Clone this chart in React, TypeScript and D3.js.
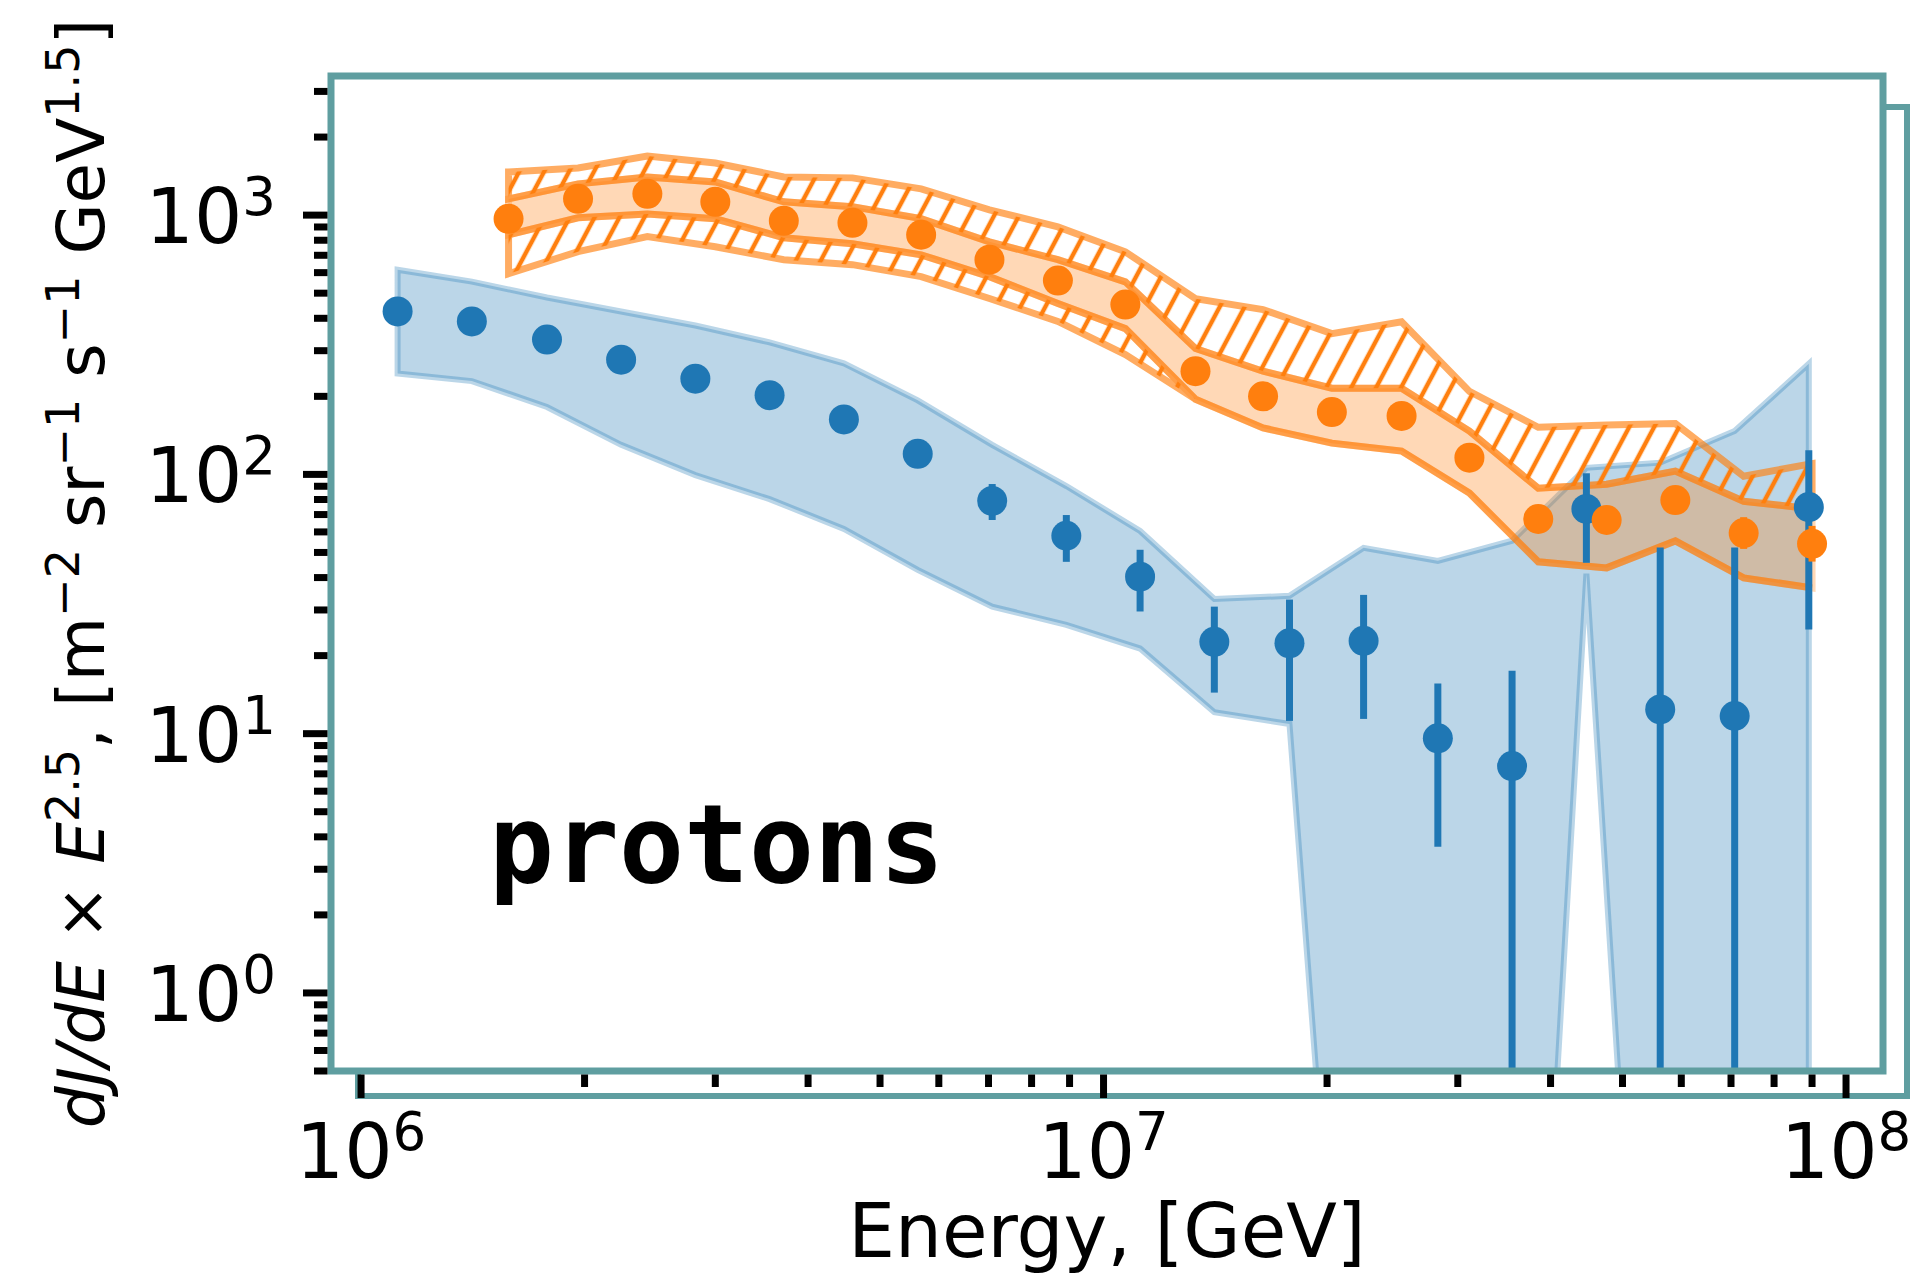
import React, { useRef, useEffect } from 'react'
import * as d3 from 'd3'

const W = 1911
const H = 1274

// blue series: measured flux, error bars and shaded band
const blueEnergy = [1.12e6, 1.41e6, 1.78e6, 2.24e6, 2.82e6, 3.55e6, 4.47e6, 5.62e6, 7.08e6, 8.91e6,
  1.12e7, 1.41e7, 1.78e7, 2.24e7, 2.82e7, 3.55e7, 4.47e7, 5.62e7, 7.08e7, 8.91e7]
const blueFlux = [425, 389, 331, 277, 234, 202, 163, 120, 79, 58, 40.3, 22.6, 22.3, 22.8, 9.6, 7.5, 73.6, 12.4, 11.7, 74.8]
const blueErrLo = [415, 380, 323, 270, 228, 196, 157, 106, 66.7, 46, 29.6, 14.4, 11.2, 11.4, 3.66, 0.001, 45.6, 0.001, 0.001, 25.2]
const blueErrHi = [435, 398, 339, 284, 240, 208, 169, 128, 91.8, 69.7, 51.2, 30.9, 32.9, 34.3, 15.6, 17.5, 101, 52.3, 52.3, 124]
const blueBandLo = [245, 229, 182, 130, 99.4, 80.3, 61.6, 42.8, 30.9, 26.3, 21.3, 12.1, 10.9, 0.002, 0.001, 0.0005, 41.4, 0.0014, 0.001, 0.001]
const blueBandHi = [616, 554, 481, 425, 375, 323, 268, 193, 130, 90.2, 60.5, 33.1, 34, 52.1, 46.4, 55.5, 106, 111, 147, 267]

// orange series: flux, error bars, inner (solid) and outer (hatched) bands
const orangeEnergy = [1.58e6, 1.96e6, 2.43e6, 3.0e6, 3.71e6, 4.59e6, 5.68e6, 7.02e6, 8.68e6, 1.07e7,
  1.33e7, 1.64e7, 2.03e7, 2.52e7, 3.11e7, 3.85e7, 4.76e7, 5.89e7, 7.28e7, 9.0e7]
const orangeFlux = [968, 1156, 1208, 1125, 951, 934, 840, 673, 559, 452, 250, 200, 174, 168, 116, 67.3, 66.7, 79.6, 59.4, 54]
const orangeErrLo = [930, 1110, 1160, 1080, 915, 898, 808, 647, 537, 435, 240, 192, 167, 161, 111, 63.5, 63, 75, 51.6, 46.1]
const orangeErrHi = [1008, 1204, 1258, 1172, 990, 972, 874, 700, 582, 470, 260, 208, 181, 175, 121, 71, 70.5, 84, 68.4, 63.3]
const orangeInnerLo = [840, 977, 1011, 968, 818, 776, 703, 579, 456, 365, 195, 151, 132, 123, 84.7, 46, 43.6, 55.4, 39.9, 36.5]
const orangeInnerHi = [1155, 1320, 1403, 1343, 1125, 1078, 969, 789, 673, 553, 306, 250, 215, 215, 147, 88.4, 91.6, 103, 78.8, 73.6]
const orangeOuterLo = [594, 723, 826, 755, 673, 644, 579, 477, 389, 290, 195, 151, 132, 123, 84.7, 46, 43.6, 55.4, 39.9, 36.5]
const orangeOuterHi = [1468, 1520, 1690, 1589, 1403, 1392, 1263, 1048, 901, 722, 476, 432, 349, 388, 209, 152, 155, 157, 98.4, 110]

// ticks
const xTicks = [1e6, 1e7, 1e8]
const xTickExp = ['6', '7', '8']
const yTicks = [1, 10, 100, 1000]
const yTickExp = ['0', '1', '2', '3']

const xLabel = 'Energy, [GeV]'
const yLabelParts = [
  { t: 'dJ/dE', it: true }, { t: ' × ' }, { t: 'E', it: true }, { t: '2.5', sup: true },
  { t: ', [m' }, { t: '−2', sup: true }, { t: ' sr' }, { t: '−1', sup: true },
  { t: ' s' }, { t: '−1', sup: true }, { t: ' GeV' }, { t: '1.5', sup: true }, { t: ']' },
]
const panelLabel = 'protons'

const BLUE = '#1f77b4'
const ORANGE = '#ff7f0e'
const SPINE = '#5f9ea0'

type Part = { t: string, sup?: boolean, it?: boolean }

const App = () => {
  const ref = useRef<SVGSVGElement>(null)

  useEffect(() => {
    const svg = d3.select(ref.current)
    svg.selectAll('*').remove()

    const left = 331, right = 1883, top = 76, bottom = 1071

    const x = d3.scaleLog().domain([9.11e5, 1.1215e8]).range([left, right])
    const y = d3.scaleLog().domain([0.5, 3440]).range([bottom, top])

    const defs = svg.append('defs')
    defs.append('clipPath').attr('id', 'plotclip')
      .append('rect').attr('x', left).attr('y', top).attr('width', right - left).attr('height', bottom - top)
    const pat = defs.append('pattern').attr('id', 'hatch')
      .attr('patternUnits', 'userSpaceOnUse')
      .attr('width', 22).attr('height', 22)
      .attr('patternTransform', 'rotate(28)')
    pat.append('line').attr('x1', 11).attr('y1', -2).attr('x2', 11).attr('y2', 24)
      .attr('stroke', ORANGE).attr('stroke-width', 4.5)

    // second (offset) frame behind the main axes
    svg.append('rect')
      .attr('x', 358).attr('y', 107).attr('width', 1549).attr('height', 989)
      .attr('fill', '#fff').attr('stroke', SPINE).attr('stroke-width', 6)

    svg.append('rect')
      .attr('x', left).attr('y', top).attr('width', right - left).attr('height', bottom - top)
      .attr('fill', '#fff')

    const plot = svg.append('g').attr('clip-path', 'url(#plotclip)')

    const idx = d3.range(blueEnergy.length)
    const blueArea = d3.area<number>()
      .x(i => x(blueEnergy[i]))
      .y0(i => y(blueBandLo[i]))
      .y1(i => y(blueBandHi[i]))
    plot.append('path').attr('d', blueArea(idx))
      .attr('fill', BLUE).attr('fill-opacity', 0.3)
      .attr('stroke', BLUE).attr('stroke-opacity', 0.3).attr('stroke-width', 6)
      .attr('stroke-linejoin', 'miter')

    const oidx = d3.range(orangeEnergy.length)
    const band = (lo: number[], hi: number[]) => d3.area<number>()
      .x(i => x(orangeEnergy[i]))
      .y0(i => y(lo[i]))
      .y1(i => y(hi[i]))(oidx)

    plot.append('path').attr('d', band(orangeInnerLo, orangeInnerHi))
      .attr('fill', ORANGE).attr('fill-opacity', 0.3)
      .attr('stroke', ORANGE).attr('stroke-opacity', 0.3).attr('stroke-width', 7)

    plot.append('path').attr('d', band(orangeInnerHi, orangeOuterHi))
      .attr('fill', 'url(#hatch)')
      .attr('stroke', ORANGE).attr('stroke-opacity', 0.65).attr('stroke-width', 7)
    plot.append('path').attr('d', band(orangeOuterLo, orangeInnerLo))
      .attr('fill', 'url(#hatch)')
      .attr('stroke', ORANGE).attr('stroke-opacity', 0.65).attr('stroke-width', 7)

    // blue points
    plot.selectAll('line.berr').data(idx).enter().append('line')
      .attr('x1', i => x(blueEnergy[i])).attr('x2', i => x(blueEnergy[i]))
      .attr('y1', i => y(blueErrLo[i])).attr('y2', i => y(blueErrHi[i]))
      .attr('stroke', BLUE).attr('stroke-width', 7)
    plot.selectAll('circle.bpt').data(idx).enter().append('circle')
      .attr('cx', i => x(blueEnergy[i])).attr('cy', i => y(blueFlux[i]))
      .attr('r', 15).attr('fill', BLUE)

    // orange points
    plot.selectAll('line.oerr').data(oidx).enter().append('line')
      .attr('x1', i => x(orangeEnergy[i])).attr('x2', i => x(orangeEnergy[i]))
      .attr('y1', i => y(orangeErrLo[i])).attr('y2', i => y(orangeErrHi[i]))
      .attr('stroke', ORANGE).attr('stroke-width', 7)
    plot.selectAll('circle.opt').data(oidx).enter().append('circle')
      .attr('cx', i => x(orangeEnergy[i])).attr('cy', i => y(orangeFlux[i]))
      .attr('r', 15).attr('fill', ORANGE)

    // main frame
    svg.append('rect')
      .attr('x', left).attr('y', top).attr('width', right - left).attr('height', bottom - top)
      .attr('fill', 'none').attr('stroke', SPINE).attr('stroke-width', 7)

    // minor ticks per decade
    const minors = (lo: number, hi: number) => {
      const out: number[] = []
      for (let e = Math.floor(Math.log10(lo)); e <= Math.ceil(Math.log10(hi)); e++) {
        for (let m = 2; m <= 9; m++) {
          const v = m * Math.pow(10, e)
          if (v >= lo * 0.9999 && v <= hi) out.push(v)
        }
      }
      return out
    }

    const ticks = svg.append('g').attr('stroke', '#000').attr('stroke-width', 7)
    const [xd0, xd1] = x.domain()
    const [yd0, yd1] = y.domain()
    ticks.selectAll('line.xmin').data(minors(xd0, xd1)).enter().append('line')
      .attr('x1', d => x(d)).attr('x2', d => x(d)).attr('y1', bottom + 3.5).attr('y2', bottom + 16)
    ticks.selectAll('line.xmaj').data(xTicks).enter().append('line')
      .attr('x1', d => x(d)).attr('x2', d => x(d)).attr('y1', bottom + 3.5).attr('y2', bottom + 27)
    ticks.selectAll('line.ymin').data(minors(yd0, yd1)).enter().append('line')
      .attr('y1', d => y(d)).attr('y2', d => y(d)).attr('x1', left - 3.5).attr('x2', left - 17)
    ticks.selectAll('line.ymaj').data(yTicks).enter().append('line')
      .attr('y1', d => y(d)).attr('y2', d => y(d)).attr('x1', left - 3.5).attr('x2', left - 28)

    const mathText = (sel: any, parts: Part[], size: number, supSize: number, raise: number) => {
      let up = false
      parts.forEach(p => {
        const ts = sel.append('tspan').text(p.t)
          .attr('font-size', p.sup ? supSize : size)
          .attr('font-style', p.it ? 'italic' : 'normal')
        if (p.sup && !up) { ts.attr('dy', -raise); up = true }
        else if (!p.sup && up) { ts.attr('dy', raise); up = false }
      })
    }

    const font = 'DejaVu Sans'
    xTicks.forEach((v, i) => {
      const t = svg.append('text').attr('x', x(v)).attr('y', 1178)
        .attr('text-anchor', 'middle').attr('font-family', font).attr('fill', '#000')
        .style('white-space', 'pre')
      mathText(t, [{ t: '10' }, { t: xTickExp[i], sup: true }], 76, 53, 28)
    })
    yTicks.forEach((v, i) => {
      const t = svg.append('text').attr('x', 276).attr('y', y(v) + 28)
        .attr('text-anchor', 'end').attr('font-family', font).attr('fill', '#000')
        .style('white-space', 'pre')
      mathText(t, [{ t: '10' }, { t: yTickExp[i], sup: true }], 76, 53, 28)
    })

    svg.append('text').attr('x', (left + right) / 2).attr('y', 1257)
      .attr('text-anchor', 'middle').attr('font-family', font).attr('font-size', 74)
      .text(xLabel)

    const yl = svg.append('text')
      .attr('transform', `translate(104, ${(top + bottom) / 2}) rotate(-90)`)
      .attr('text-anchor', 'middle').attr('font-family', font).attr('fill', '#000')
      .style('white-space', 'pre')
    mathText(yl, yLabelParts, 66, 46, 25)

    svg.append('text').attr('x', 489).attr('y', 882)
      .attr('font-family', 'DejaVu Sans Mono').attr('font-weight', 'bold').attr('font-size', 108)
      .text(panelLabel)
  }, [])

  return (
    <svg ref={ref} width={W} height={H}
      style={{ position: 'absolute', left: 0, top: 0, background: '#fff' }} />
  )
}

export default App
